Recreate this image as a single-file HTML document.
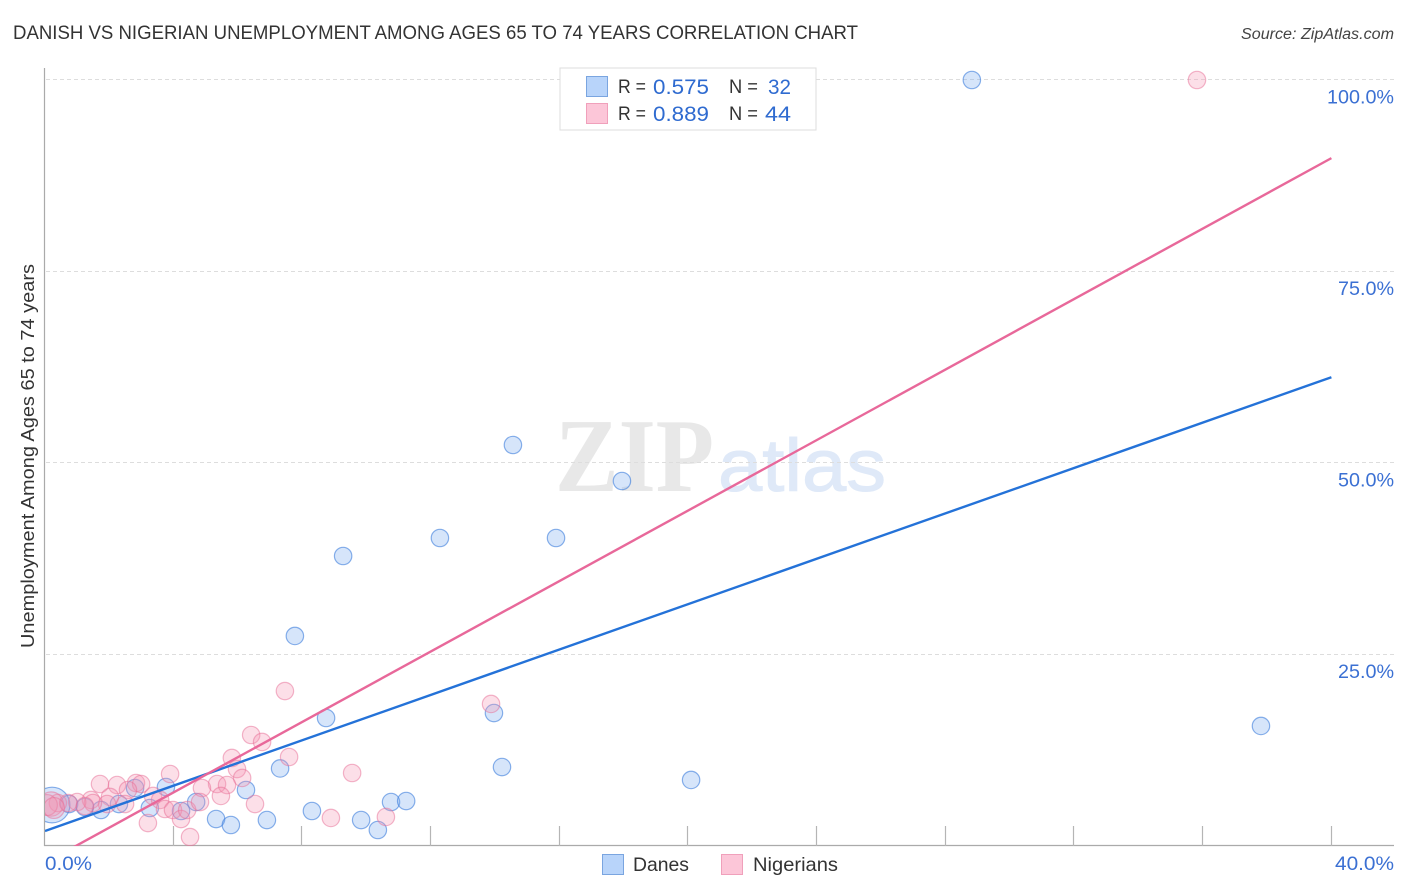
<!DOCTYPE html>
<html lang="en">
<head>
<meta charset="utf-8">
<title>Danish vs Nigerian Unemployment Correlation Chart</title>
<style>
html,body{margin:0;padding:0;background:#fff;}
svg{display:block;font-family:"Liberation Sans",Arial,sans-serif;}
</style>
</head>
<body>
<svg id="chart" xmlns="http://www.w3.org/2000/svg" width="1406" height="892" viewBox="0 0 1406 892">
  <defs>
    <clipPath id="plot-clip"><rect x="45" y="60" width="1350" height="786"/></clipPath>
  </defs>
  <rect x="0" y="0" width="1406" height="892" fill="#ffffff"/>
  <text x="13" y="39" font-size="19" fill="#333333" textLength="845" lengthAdjust="spacingAndGlyphs">DANISH VS NIGERIAN UNEMPLOYMENT AMONG AGES 65 TO 74 YEARS CORRELATION CHART</text>
  <text x="1241" y="39" font-size="15.5" font-style="italic" fill="#444444" textLength="153" lengthAdjust="spacingAndGlyphs">Source: ZipAtlas.com</text>

  <g>
    <text x="555" y="491" font-family="'Liberation Serif',serif" font-weight="bold" font-size="105" fill="#e8e8e8" textLength="159" lengthAdjust="spacingAndGlyphs">ZIP</text>
    <text x="718" y="491" font-size="74" fill="#dfe9f8" stroke="#dfe9f8" stroke-width="1" textLength="168" lengthAdjust="spacingAndGlyphs">atlas</text>
  </g>

  <g id="grid"></g>
  <g id="axes"></g>
  <g id="marks" clip-path="url(#plot-clip)"></g>
  <g id="trends" clip-path="url(#plot-clip)"></g>
  <g id="labels"></g>

  <text transform="translate(34,648) rotate(-90)" x="0" y="0" font-size="18.5" fill="#333333" textLength="384" lengthAdjust="spacingAndGlyphs">Unemployment Among Ages 65 to 74 years</text>

  <g>
    <rect x="560" y="68" width="256" height="62" fill="#ffffff" stroke="#dddddd" stroke-width="1"/>
    <rect x="586.5" y="76.5" width="21" height="20" fill="#b8d4fa" stroke="#7aa5e0"/>
    <rect x="586.5" y="103.5" width="21" height="20" fill="#fcc6d8" stroke="#f0a0bb"/>
    <text x="618" y="93" font-size="19" fill="#333333" textLength="28" lengthAdjust="spacingAndGlyphs">R =</text>
    <text x="653" y="94" font-size="21" fill="#2f6bd0" textLength="56" lengthAdjust="spacingAndGlyphs">0.575</text>
    <text x="729" y="93" font-size="19" fill="#333333" textLength="29" lengthAdjust="spacingAndGlyphs">N =</text>
    <text x="768" y="94" font-size="21" fill="#2f6bd0" textLength="23" lengthAdjust="spacingAndGlyphs">32</text>
    <text x="618" y="120" font-size="19" fill="#333333" textLength="28" lengthAdjust="spacingAndGlyphs">R =</text>
    <text x="653" y="121" font-size="21" fill="#2f6bd0" textLength="56" lengthAdjust="spacingAndGlyphs">0.889</text>
    <text x="729" y="120" font-size="19" fill="#333333" textLength="29" lengthAdjust="spacingAndGlyphs">N =</text>
    <text x="765" y="121" font-size="21" fill="#2f6bd0" textLength="26" lengthAdjust="spacingAndGlyphs">44</text>
  </g>

  <g>
    <g>
      <rect x="602.5" y="854.5" width="21" height="20" fill="#b8d4fa" stroke="#7aa5e0"/>
      <text x="633" y="871" font-size="19.5" fill="#333333" textLength="56" lengthAdjust="spacingAndGlyphs">Danes</text>
    </g>
    <g>
      <rect x="721.5" y="854.5" width="21" height="20" fill="#fcc6d8" stroke="#f0a0bb"/>
      <text x="753" y="871" font-size="19.5" fill="#333333" textLength="85" lengthAdjust="spacingAndGlyphs">Nigerians</text>
    </g>
  </g>
</svg>
<script>
const xTickValues = [4, 8, 12, 16, 20, 24, 28, 32, 36, 40];
const yTickValues = [25, 50, 75, 100];
const yTickLabels = ["25.0%", "50.0%", "75.0%", "100.0%"];
const xEdgeLabels = ["0.0%", "40.0%"];

const danesX = [28.82,14.55,17.94,12.28,15.89,9.27,7.77,8.74,13.96,37.81,14.21,20.09,7.31,3.76,6.25,2.80,10.76,11.23,4.70,8.30,5.32,5.78,6.90,9.83,10.35,1.74,2.30,3.26,4.23,0.75,1.24,0.22];
const danesY = [100,52.35,47.65,40.21,40.21,37.86,27.42,16.71,17.36,15.67,10.31,8.62,10.12,7.70,7.31,7.57,5.74,5.87,5.74,4.57,3.52,2.74,3.39,3.39,2.09,4.70,5.48,4.96,4.57,5.48,5.09,5.35];
const danesSize = [1,1,1,1,1,1,1,1,1,1,1,1,1,1,1,1,1,1,1,1,1,1,1,1,1,1,1,1,1,1,1,2.05];

const nigeriansX = [7.46,6.41,6.75,7.59,5.81,5.97,6.13,5.35,5.66,4.88,5.47,6.53,3.89,1.71,2.24,2.83,2.99,2.58,2.02,1.43,3.36,3.58,2.49,1.93,1.49,1.00,0.40,0.19,0.06,1.24,3.20,3.73,3.98,4.23,4.42,4.82,4.51,8.89,9.55,10.60,13.87,35.82,0.72,0.28];
const nigeriansY = [20.23,14.49,13.58,11.62,11.49,10.05,8.88,8.09,7.96,7.57,6.53,5.48,9.40,8.09,7.96,8.22,8.09,7.31,6.40,6.01,6.53,6.01,5.48,5.48,5.61,5.74,5.61,5.48,5.35,5.22,3.00,4.83,4.70,3.52,4.70,5.74,1.17,3.66,9.53,3.79,18.54,100,5.61,4.96];
const nigeriansSize = [1,1,1,1,1,1,1,1,1,1,1,1,1,1,1,1,1,1,1,1,1,1,1,1,1,1,1,1.4,1.2,1,1,1,1,1,1,1,1,1,1,1,1,1,1,1.2];

const trendX = [0, 40];
const danesTrendY = [1.96, 61.2];
const nigeriansTrendY = [-2.2, 89.8];

const NS = "http://www.w3.org/2000/svg";
const xScale = function (v) { return 45 + v * 32.16; };
const yScale = function (v) { return 846 - v * 7.66; };
const baseRadius = 8.7;

function make(tag, parent) {
  const el = document.createElementNS(NS, tag);
  parent.appendChild(el);
  return el;
}
function setAll(el, props) {
  Object.keys(props).forEach(function (k) { el.setAttribute(k, props[k]); });
}

const grid = document.getElementById("grid");
const axes = document.getElementById("axes");
const marks = document.getElementById("marks");
const trends = document.getElementById("trends");
const labels = document.getElementById("labels");

yTickValues.forEach(function (v, i) {
  const y = Math.floor(yScale(v) - 0.2) + 0.5;
  const line = make("line", grid);
  
  
  setAll(line, { x1: 46, x2: 1394, y1: y, y2: y, stroke: "#dddddd", "stroke-width": 1, "stroke-dasharray": "4 3" });
  const t = make("text", labels);
  
  
  const w = yTickLabels[i].length === 6 ? 67 : 56;
  setAll(t, { x: 1394 - w, y: yScale(v) + 23.5, "font-size": 19, fill: "#3b70d3", textLength: w, lengthAdjust: "spacingAndGlyphs" });
  t.textContent = yTickLabels[i];
});

const yAxis = make("line", axes);


setAll(yAxis, { x1: 44.5, x2: 44.5, y1: 68, y2: 846, stroke: "#aaaaaa", "stroke-width": 1.2 });
const xAxis = make("line", axes);


setAll(xAxis, { x1: 44, x2: 1394, y1: 845.5, y2: 845.5, stroke: "#aaaaaa", "stroke-width": 1.2 });

xTickValues.forEach(function (v) {
  const x = Math.floor(xScale(v) - 0.3) + 0.5;
  const tick = make("line", axes);
  
  
  setAll(tick, { x1: x, x2: x, y1: 826, y2: 846, stroke: "#b5b5b5", "stroke-width": 1.2 });
});

const xLabelLeft = make("text", labels);


setAll(xLabelLeft, { x: 45, y: 870, "font-size": 19, fill: "#3b70d3", textLength: 47, lengthAdjust: "spacingAndGlyphs" });
xLabelLeft.textContent = xEdgeLabels[0];

const xLabelRight = make("text", labels);


setAll(xLabelRight, { x: 1335, y: 870, "font-size": 19, fill: "#3b70d3", textLength: 59, lengthAdjust: "spacingAndGlyphs" });
xLabelRight.textContent = xEdgeLabels[1];

danesX.forEach(function (v, i) {
  const c = make("circle", marks);
  
  
  setAll(c, { cx: xScale(v), cy: yScale(danesY[i]), r: baseRadius * danesSize[i], fill: "rgba(120,170,240,0.3)", stroke: "rgba(60,125,220,0.6)", "stroke-width": 1.2 });
});
nigeriansX.forEach(function (v, i) {
  const c = make("circle", marks);
  
  
  setAll(c, { cx: xScale(v), cy: yScale(nigeriansY[i]), r: baseRadius * nigeriansSize[i], fill: "rgba(245,150,180,0.3)", stroke: "rgba(232,110,150,0.5)", "stroke-width": 1.2 });
});

const blueLine = make("line", trends);


setAll(blueLine, { x1: xScale(trendX[0]), y1: yScale(danesTrendY[0]), x2: xScale(trendX[1]), y2: yScale(danesTrendY[1]), stroke: "#2472d8", "stroke-width": 2.4 });

const pinkLine = make("line", trends);


setAll(pinkLine, { x1: xScale(trendX[0]), y1: yScale(nigeriansTrendY[0]), x2: xScale(trendX[1]), y2: yScale(nigeriansTrendY[1]), stroke: "#e8689a", "stroke-width": 2.4 });
</script>
</body>
</html>
